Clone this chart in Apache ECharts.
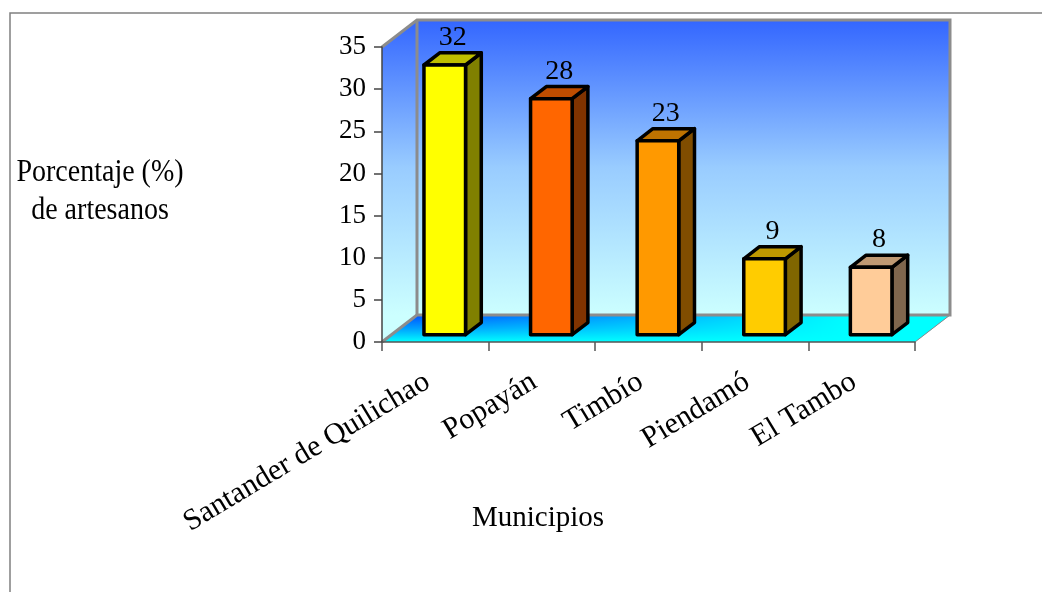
<!DOCTYPE html>
<html>
<head>
<meta charset="utf-8">
<script src="https://cdn.jsdelivr.net/npm/echarts@6/dist/echarts.min.js"></script>
<style>
html,body{margin:0;padding:0;background:#fff}
#chart{width:1042px;height:592px}
</style>
</head>
<body>
<div id="chart"></div>
<script>
var municipios=['Santander de Quilichao','Popayán','Timbío','Piendamó','El Tambo'];
var porcentajes=[32,28,23,9,8];
var colores=['#FFFF00','#FF6600','#FF9900','#FFCC00','#FFCC99'];
var yMin=0,yMax=35,yInterval=5;

// desplazamiento de profundidad (efecto 3D)
var DX=35,DY=-27;
var FRONT=0.27,BACK=0.72;
var FONT='"Liberation Serif","Times New Roman",serif';

function shade(hex,f){
	var n=parseInt(hex.slice(1),16);
	var r=Math.round((n>>16&255)*f),g=Math.round((n>>8&255)*f),b=Math.round((n&255)*f);
	return 'rgb('+r+','+g+','+b+')';
}

var myChart=echarts.init(document.getElementById('chart'));

function renderWalls(params,api){
	var cs=params.coordSys;
	var x0=cs.x,y0=cs.y,x1=cs.x+cs.width,y1=cs.y+cs.height;
	var wallGrad=new echarts.graphic.LinearGradient(0,y0+DY,0,y1+DY,[
		{offset:0,color:'#3366FF'},
		{offset:0.5,color:'#99CCFF'},
		{offset:1,color:'#CCFFFF'}
	],true);
	var floorGrad=new echarts.graphic.LinearGradient(0,y1+DY,0,y1,[
		{offset:0,color:'#0050FF'},
		{offset:0.5,color:'#00A0FF'},
		{offset:1,color:'#00FFFF'}
	],true);
	var floorGrad2=new echarts.graphic.LinearGradient(x0+DX,0,x1-60,0,[
		{offset:0,color:'rgba(0,255,255,0)'},
		{offset:1,color:'rgba(0,255,255,1)'}
	],true);
	var floorPts=[[x0,y1],[x1,y1],[x1+DX,y1+DY],[x0+DX,y1+DY]];
	var gray='#8C8C8C';
	return {
		type:'group',
		children:[
			{type:'polygon',shape:{points:[[x0,y0],[x0+DX,y0+DY],[x0+DX,y1+DY],[x0,y1]]},style:{fill:wallGrad}},
			{type:'rect',shape:{x:x0+DX,y:y0+DY,width:cs.width,height:cs.height},style:{fill:wallGrad}},
			{type:'polygon',shape:{points:floorPts},style:{fill:floorGrad}},
			{type:'polygon',shape:{points:floorPts},style:{fill:floorGrad2}},
			{type:'polyline',shape:{points:[[x0,y0],[x0+DX,y0+DY],[x1+DX,y0+DY],[x1+DX,y1+DY],[x0+DX,y1+DY],[x0,y1]]},style:{stroke:gray,lineWidth:3,fill:null}},
			{type:'line',shape:{x1:x0+DX,y1:y0+DY,x2:x0+DX,y2:y1+DY},style:{stroke:gray,lineWidth:3}},
			{type:'line',shape:{x1:x1,y1:y1,x2:x1+DX,y2:y1+DY},style:{stroke:gray,lineWidth:1}}
		]
	};
}

function renderBar(params,api){
	var idx=api.value(0);
	var val=api.value(1);
	var base=api.coord([idx,0]);
	var top=api.coord([idx,val]);
	var w=api.size([1,0])[0]*0.39;
	var fx=base[0]-w/2+DX*FRONT, fy0=base[1]+DY*FRONT, fy1=top[1]+DY*FRONT;
	var bx=DX*(BACK-FRONT), by=DY*(BACK-FRONT);
	var c=colores[idx];
	var line={stroke:'#000',lineWidth:3.5,lineJoin:'round'};
	var front=[[fx,fy1],[fx+w,fy1],[fx+w,fy0],[fx,fy0]];
	var side=[[fx+w,fy1],[fx+w+bx,fy1+by],[fx+w+bx,fy0+by],[fx+w,fy0]];
	var topF=[[fx,fy1],[fx+bx,fy1+by],[fx+w+bx,fy1+by],[fx+w,fy1]];
	return {
		type:'group',
		children:[
			{type:'polygon',shape:{points:side},style:Object.assign({fill:shade(c,0.5)},line)},
			{type:'polygon',shape:{points:topF},style:Object.assign({fill:shade(c,0.75)},line)},
			{type:'polygon',shape:{points:front},style:Object.assign({fill:c},line)},
			{type:'text',style:{
				text:String(val),
				x:fx+w/2+bx/2,
				y:fy1+by-1,
				align:'center',
				verticalAlign:'bottom',
				font:'28px '+FONT,
				fill:'#000'
			}}
		]
	};
}

var option={
	animation:false,
	backgroundColor:'#fff',
	grid:{left:382,top:47,width:533,height:295},
	xAxis:{
		type:'category',
		data:municipios,
		z:5,
		axisLine:{lineStyle:{color:'#555',width:1.5}},
		axisTick:{show:true,length:9,lineStyle:{color:'#555',width:1.5}},
		axisLabel:{
			interval:0,
			rotate:31,
			margin:33,
			padding:[0,9,0,0],
			color:'#000',
			fontFamily:FONT,
			fontSize:30
		},
		splitLine:{show:false}
	},
	yAxis:{
		type:'value',
		min:yMin,
		max:yMax,
		interval:yInterval,
		z:5,
		axisLine:{show:true,lineStyle:{color:'#444',width:1.5}},
		axisTick:{show:true,length:8,lineStyle:{color:'#444',width:1.5}},
		axisLabel:{margin:16,color:'#000',fontFamily:FONT,fontSize:27},
		splitLine:{show:false}
	},
	graphic:[
		{type:'polyline',z:0,shape:{points:[[10,600],[10,13],[1050,13]]},style:{stroke:'#808080',lineWidth:1.5,fill:null}},
		{type:'text',x:100,y:192,scaleY:1.1,style:{
			text:'Porcentaje (%)\nde artesanos',
			align:'center',
			verticalAlign:'middle',
			lineHeight:34,
			font:'28px '+FONT,
			fill:'#000'
		}},
		{type:'text',x:538,y:518,style:{
			text:'Municipios',
			align:'center',
			verticalAlign:'middle',
			font:'29px '+FONT,
			fill:'#000'
		}}
	],
	series:[
		{
			type:'custom',
			name:'paredes',
			z:1,
			silent:true,
			data:[[0,0]],
			renderItem:renderWalls
		},
		{
			type:'custom',
			name:'Porcentaje',
			z:3,
			data:porcentajes.map(function(v,i){return [i,v];}),
			renderItem:renderBar
		}
	]
};
myChart.setOption(option);
</script>
</body>
</html>
